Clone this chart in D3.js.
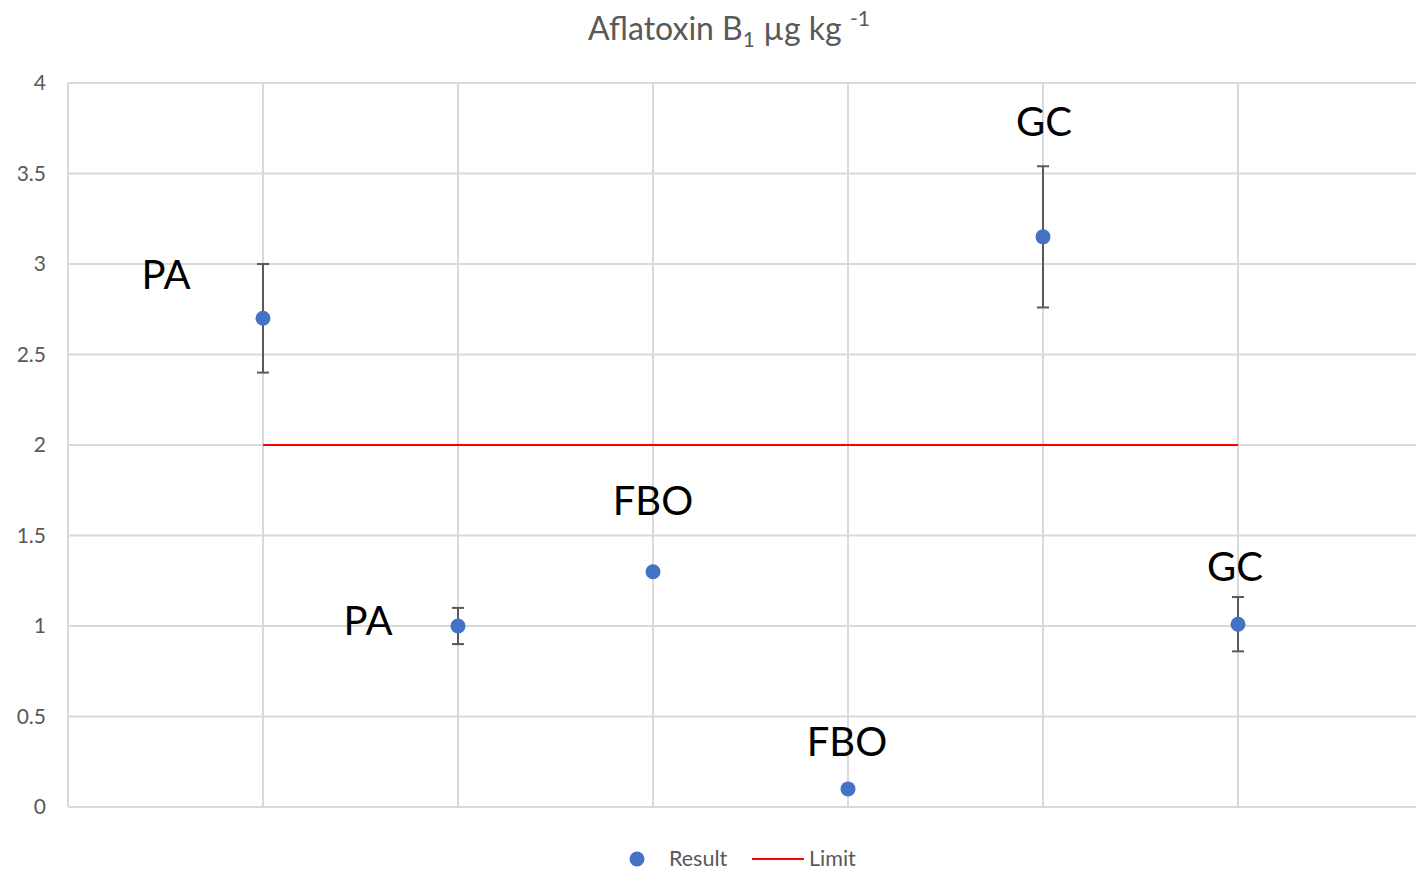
<!DOCTYPE html>
<html>
<head>
<meta charset="utf-8">
<script src="https://cdn.jsdelivr.net/npm/d3@7/dist/d3.min.js"></script>
<style>
  html, body { margin: 0; padding: 0; background: #fff; overflow: hidden; }
  svg { display: block; }
  text { font-family: Lato, "Open Sans", sans-serif; }
</style>
</head>
<body>
<svg id="chart" width="1416" height="870"></svg>
<script>
// Sample positions along the x axis
const positions = [1, 2, 3, 4, 5, 6];
// Measured aflatoxin B1 result per sample (µg/kg)
const results = [2.7, 1.0, 1.3, 0.1, 3.15, 1.01];
// Error bar bounds (null where no error bar is shown)
const errLow  = [2.4, 0.9, null, null, 2.76, 0.86];
const errHigh = [3.0, 1.1, null, null, 3.54, 1.16];
// Method label per sample
const methods = ["PA", "PA", "FBO", "FBO", "GC", "GC"];
// Regulatory limit (µg/kg), spanning from the first to the last sample
const limitValue = 2;
const limitRange = [1, 6];
// Axis ticks
const yTicks = [0, 0.5, 1, 1.5, 2, 2.5, 3, 3.5, 4];
const xGrid = [1, 2, 3, 4, 5, 6, 7];

const svg = d3.select("#chart");

const x = d3.scaleLinear().domain([0, 7]).range([68, 1433]);
const y = d3.scaleLinear().domain([0, 4]).range([807, 83]);

const gridColor = "#d9d9d9";
const textGray = "#595959";

// Horizontal gridlines
svg.append("g")
  .selectAll("line")
  .data(yTicks)
  .join("line")
  .attr("x1", x(0)).attr("x2", x(7))
  .attr("y1", d => y(d)).attr("y2", d => y(d))
  .attr("stroke", gridColor).attr("stroke-width", 2);

// Vertical gridlines
svg.append("g")
  .selectAll("line")
  .data(xGrid)
  .join("line")
  .attr("x1", d => x(d)).attr("x2", d => x(d))
  .attr("y1", y(4)).attr("y2", y(0))
  .attr("stroke", gridColor).attr("stroke-width", 2);

// Left axis line
svg.append("line")
  .attr("x1", x(0)).attr("x2", x(0))
  .attr("y1", y(4)).attr("y2", y(0))
  .attr("stroke", gridColor).attr("stroke-width", 2);

// Y axis tick labels
const yAxis = d3.axisLeft(y).tickValues(yTicks).tickSize(0).tickPadding(22)
  .tickFormat(d3.format("~g"));
const gy = svg.append("g").attr("transform", `translate(${x(0)},0)`).call(yAxis);
gy.select(".domain").remove();
gy.selectAll("text")
  .attr("fill", textGray)
  .style("font-size", "21px")
  .style("font-family", "Lato, 'Open Sans', sans-serif");

// Limit line
svg.append("line")
  .attr("x1", x(limitRange[0])).attr("x2", x(limitRange[1]))
  .attr("y1", y(limitValue)).attr("y2", y(limitValue))
  .attr("stroke", "#ff0000").attr("stroke-width", 2);

// Error bars
const rows = positions.map((p, i) => ({
  p, v: results[i], lo: errLow[i], hi: errHigh[i], label: methods[i]
}));
const eb = svg.append("g").selectAll("g")
  .data(rows.filter(r => r.lo != null))
  .join("g")
  .attr("stroke", "#595959").attr("stroke-width", 2);
eb.append("line")
  .attr("x1", d => x(d.p)).attr("x2", d => x(d.p))
  .attr("y1", d => y(d.lo)).attr("y2", d => y(d.hi));
eb.append("line")
  .attr("x1", d => x(d.p) - 6).attr("x2", d => x(d.p) + 6)
  .attr("y1", d => y(d.lo)).attr("y2", d => y(d.lo));
eb.append("line")
  .attr("x1", d => x(d.p) - 6).attr("x2", d => x(d.p) + 6)
  .attr("y1", d => y(d.hi)).attr("y2", d => y(d.hi));

// Result markers
svg.append("g").selectAll("circle")
  .data(rows)
  .join("circle")
  .attr("cx", d => x(d.p)).attr("cy", d => y(d.v))
  .attr("r", 7.5)
  .attr("fill", "#4472c4");

// Method labels, offset in pixels from their markers
const labelOffsets = [[-97, -29], [-90, 9], [0, -57], [-1, -33], [1, -101], [-3, -43]];
svg.append("g").selectAll("text")
  .data(rows)
  .join("text")
  .attr("x", (d, i) => x(d.p) + labelOffsets[i][0])
  .attr("y", (d, i) => y(d.v) + labelOffsets[i][1])
  .attr("text-anchor", "middle")
  .attr("fill", "#000")
  .style("font-size", "40px")
  .text(d => d.label);

// Title with subscript and superscript
const title = svg.append("text")
  .attr("x", 729).attr("y", 40)
  .attr("text-anchor", "middle")
  .attr("fill", textGray)
  .style("font-size", "32px");
title.append("tspan").text("Aflatoxin B");
title.append("tspan").attr("dy", 7).style("font-size", "21px").text("1");
title.append("tspan").attr("dy", -7).text(" µg kg ");
title.append("tspan").attr("dy", -14).style("font-size", "21px").text("-1");

// Legend
const legend = svg.append("g").attr("transform", "translate(0,859)");
legend.append("circle").attr("cx", 637).attr("cy", 0).attr("r", 7.5).attr("fill", "#4472c4");
legend.append("text").attr("x", 669).attr("y", 7).attr("fill", textGray)
  .style("font-size", "21.5px").text("Result");
legend.append("line").attr("x1", 752).attr("x2", 804).attr("y1", 0).attr("y2", 0)
  .attr("stroke", "#ff0000").attr("stroke-width", 2);
legend.append("text").attr("x", 809).attr("y", 7).attr("fill", textGray)
  .style("font-size", "21.5px").text("Limit");
</script>
</body>
</html>
